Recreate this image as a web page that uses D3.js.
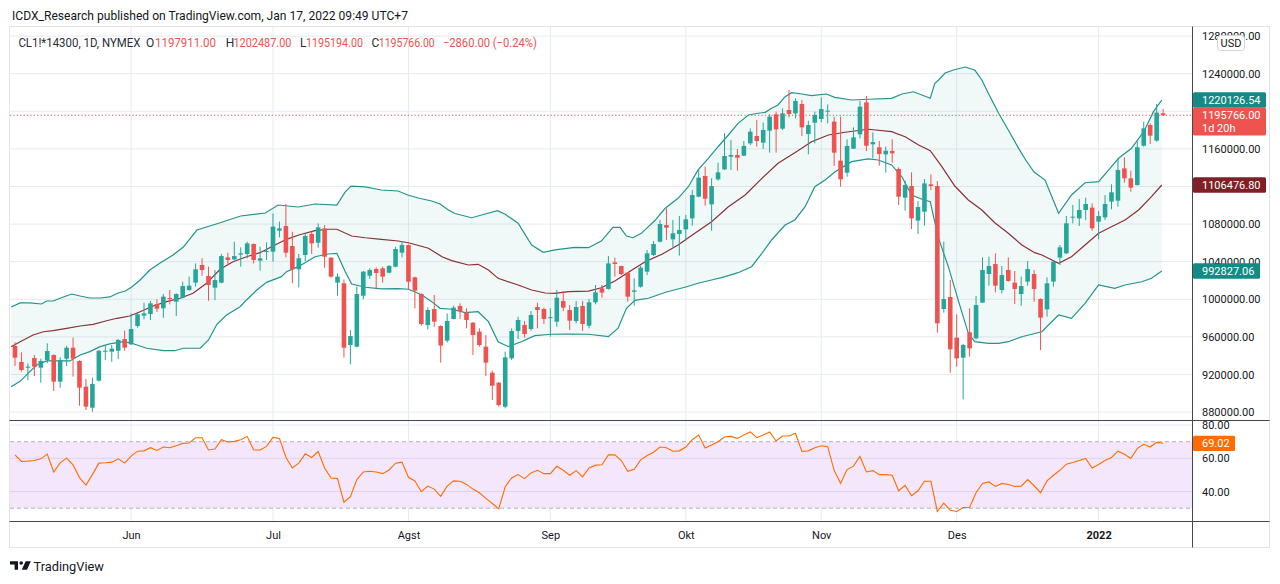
<!DOCTYPE html>
<html>
<head>
<meta charset="utf-8">
<script src="https://cdn.jsdelivr.net/npm/d3@7"></script>
<style>
	body { margin: 0; background: #ffffff; }
	svg { display: block; font-family: Roboto, "Noto Sans", sans-serif; }
</style>
</head>
<body>
<svg id="chart" width="1280" height="584"></svg>
<script>
// daily bars, index 0 = first visible bar (early May 2021), 178 = Jan 17 2022
const openPrices = [
	950300, 933300, 927300, 937500, 927300, 935400, 940700, 912400, 936800, 948500,
	934300, 907100, 884700, 913400, 944300, 944300, 945300, 957700, 952100, 971600,
	982600, 984300, 995000, 990400, 1001400, 997500, 1001700, 1009900, 1017700, 1036500,
	1024800, 1012400, 1017700, 1044600, 1042500, 1047500, 1048200, 1058800, 1041100, 1051000,
	1050700, 1073000, 1078000, 1056700, 1031900, 1047100, 1069500, 1060200, 1075500, 1044300,
	1017700, 1017000, 951400, 949600, 1003800, 1025100, 1032200, 1032900, 1028300, 1034700,
	1049600, 1057700, 1023400, 1005600, 972600, 989600, 971600, 956000, 979000, 992900,
	986100, 975100, 965600, 949600, 921900, 911300, 885800, 937200, 966300, 972700,
	968400, 991800, 989700, 980700, 976200, 998200, 988600, 976900, 992900, 971900,
	996800, 1011700, 1011000, 1039300, 1035400, 1028300, 1008000, 1013400, 1029400, 1047100,
	1061300, 1079000, 1063800, 1069500, 1074400, 1086100, 1109200, 1131200, 1101000, 1127600,
	1138200, 1151700, 1153500, 1152800, 1165900, 1173700, 1166600, 1179400, 1196800, 1181500,
	1201400, 1197800, 1207800, 1175800, 1187900, 1191800, 1200300, 1189000, 1147500, 1134700,
	1160200, 1175500, 1209500, 1164900, 1161700, 1154200, 1157800, 1138600, 1108100, 1120500,
	1083700, 1093200, 1122300, 1120500, 989700, 1002400, 959200, 937900, 964900, 958500,
	996400, 1026900, 1037500, 1009900, 1031200, 1017700, 1005600, 1018800, 1026900, 1000300,
	989300, 1018800, 1044300, 1048900, 1087600, 1086100, 1095000, 1097500, 1082600, 1087200,
	1103900, 1104900, 1139300, 1128700, 1121600, 1163400, 1185400, 1168800, 1197911
];
const highPrices = [
	954200, 943600, 931900, 940700, 936800, 953100, 941500, 938200, 950700, 959200,
	935000, 915200, 916600, 946000, 951400, 951400, 957700, 966600, 985000, 985800,
	996400, 998200, 999900, 1005600, 1009900, 1006300, 1018700, 1024100, 1038200, 1043600,
	1034700, 1031100, 1048200, 1049600, 1061300, 1055300, 1061300, 1059500, 1056000, 1060600,
	1091400, 1082600, 1101400, 1071900, 1048200, 1069500, 1071900, 1080800, 1079000, 1045000,
	1027600, 1021200, 967300, 1013400, 1030100, 1032900, 1034000, 1034700, 1036500, 1056000,
	1062000, 1058500, 1024100, 1006300, 991400, 1004600, 972300, 985000, 993200, 995700,
	990400, 975800, 969100, 962000, 924100, 912000, 944300, 969100, 981500, 976900,
	987500, 996400, 991100, 990400, 1009900, 1008800, 993900, 998200, 998200, 1000300,
	1015200, 1015200, 1046100, 1044300, 1035800, 1029000, 1022300, 1035800, 1052400, 1062000,
	1084300, 1096800, 1084300, 1088600, 1089700, 1116300, 1137600, 1141100, 1128700, 1145300,
	1176600, 1169500, 1159900, 1168400, 1181900, 1190700, 1187900, 1196800, 1199600, 1203100,
	1222700, 1213800, 1212000, 1190000, 1199600, 1214800, 1207400, 1194300, 1194300, 1170200,
	1182900, 1210900, 1216300, 1177600, 1168400, 1162400, 1170200, 1140400, 1126200, 1135100,
	1104600, 1128000, 1132900, 1125800, 1061300, 1020500, 984000, 952600, 990400, 1003500,
	1044600, 1045300, 1048900, 1035400, 1044600, 1030100, 1024100, 1040700, 1031200, 1001000,
	1023400, 1041100, 1057700, 1088600, 1100300, 1106700, 1108100, 1102100, 1093900, 1110900,
	1122300, 1149200, 1151000, 1136800, 1167700, 1189000, 1187200, 1207800, 1202487
];
const lowPrices = [
	929000, 923000, 914100, 918400, 911300, 931900, 902400, 906000, 929000, 917700,
	886800, 882200, 880500, 912400, 935400, 933600, 936500, 945300, 951400, 969800,
	978700, 978000, 986500, 980400, 994600, 982200, 1001000, 1009000, 1013400, 1025100,
	998500, 999200, 1017000, 1036500, 1041800, 1034700, 1043600, 1038200, 1030400, 1041800,
	1040000, 1065900, 1044600, 1017000, 1012700, 1040700, 1048200, 1054900, 1033700, 1023000,
	1003800, 937900, 930800, 948800, 1000000, 1021600, 1010600, 1017700, 1027600, 1034000,
	1044600, 1010600, 990400, 972000, 968000, 970900, 932600, 953900, 978700, 979000,
	969100, 940700, 949600, 918400, 892900, 885800, 884000, 935400, 957700, 959200,
	966600, 969100, 973700, 960200, 970900, 987500, 967300, 974400, 966300, 969100,
	994600, 1001700, 1010300, 1024100, 1025800, 997500, 993200, 1012400, 1025800, 1046100,
	1060600, 1063100, 1055300, 1046400, 1062400, 1078300, 1108500, 1099600, 1073000, 1126200,
	1137600, 1137600, 1136800, 1152400, 1164100, 1162400, 1159900, 1156000, 1156000, 1180100,
	1193600, 1192500, 1173700, 1154200, 1165900, 1188300, 1187200, 1141800, 1119800, 1130400,
	1160200, 1171200, 1157800, 1150000, 1142200, 1134700, 1145300, 1100300, 1094300, 1074800,
	1069500, 1078300, 1116200, 964500, 985800, 921900, 928300, 893600, 939000, 957400,
	996400, 1014500, 1007400, 1006300, 1018800, 995000, 993200, 1014500, 997500, 946000,
	981500, 1013400, 1036500, 1048200, 1080800, 1078000, 1084300, 1073000, 1063800, 1084300,
	1095700, 1098600, 1124100, 1114500, 1120900, 1162400, 1165200, 1167700, 1195194
];
const closePrices = [
	937900, 924800, 928300, 928300, 934400, 945000, 912400, 935400, 948500, 936800,
	906000, 885800, 909900, 945300, 945300, 947500, 956700, 948500, 968400, 984000,
	985000, 995700, 990000, 1002800, 1000300, 1005600, 1014100, 1014500, 1031900, 1031100,
	1015200, 1020500, 1046000, 1041800, 1046000, 1048900, 1059500, 1041800, 1043600, 1051400,
	1077300, 1075500, 1049600, 1031900, 1043600, 1067300, 1059500, 1076500, 1045300, 1024100,
	1024100, 948500, 960900, 1005600, 1029400, 1031200, 1028000, 1024100, 1035400, 1053500,
	1057700, 1018700, 1009200, 973700, 988600, 976200, 950700, 976900, 991100, 987500,
	978000, 962000, 951400, 932600, 908100, 887500, 938200, 966300, 978000, 963100,
	983300, 988600, 979100, 981000, 1001700, 991100, 977300, 991800, 973700, 996800,
	1007400, 1007100, 1038200, 1037500, 1026900, 1002800, 1009500, 1033700, 1048900, 1058800,
	1080100, 1076200, 1070200, 1073700, 1085100, 1110900, 1129400, 1107000, 1120500, 1135000,
	1152400, 1153500, 1150600, 1163100, 1178300, 1168400, 1180100, 1194300, 1180800, 1197800,
	1197100, 1211000, 1182900, 1185400, 1196100, 1202400, 1200700, 1156000, 1127600, 1163100,
	1172300, 1204900, 1163400, 1167300, 1154600, 1158100, 1155300, 1109200, 1121600, 1086100,
	1098200, 1123300, 1120500, 974400, 1000300, 946800, 937200, 951400, 947800, 993900,
	1031200, 1035400, 1014500, 1025800, 1019500, 1011000, 1014100, 1032200, 1011000, 980500,
	1017000, 1040000, 1055300, 1080800, 1087900, 1095000, 1101400, 1075500, 1088600, 1101400,
	1113800, 1137600, 1128700, 1118800, 1161700, 1181900, 1174100, 1198626, 1195766
];

// RSI(14), one value per bar
const rsiValues = [
	62.1, 58.1, 58.3, 58.7, 59.7, 62.5, 51.8, 57.3, 60.1, 56.1,
	48.4, 43.9, 50.2, 57.1, 57.3, 57.7, 59.7, 57.1, 61.3, 64.3,
	64.5, 66.4, 64.7, 66.8, 66.4, 67.6, 69.0, 69.2, 72.4, 72.4,
	65.0, 65.6, 71.2, 69.8, 70.2, 71.2, 73.2, 65.0, 65.0, 67.2,
	72.6, 72.0, 60.7, 54.2, 57.1, 62.7, 60.5, 64.1, 54.2, 48.2,
	47.8, 33.6, 36.9, 47.2, 51.8, 52.2, 51.8, 50.8, 53.0, 57.1,
	57.7, 48.6, 46.4, 39.9, 43.3, 41.5, 37.1, 43.3, 46.4, 46.2,
	44.3, 41.5, 39.3, 35.9, 32.8, 29.6, 42.9, 48.2, 50.2, 47.8,
	51.2, 52.8, 50.8, 50.8, 55.2, 52.8, 49.8, 52.6, 48.8, 54.2,
	55.9, 56.1, 62.1, 62.1, 58.7, 52.2, 53.4, 59.1, 61.7, 63.7,
	66.8, 66.4, 64.3, 64.5, 66.8, 71.2, 74.0, 66.2, 68.0, 70.0,
	72.8, 73.2, 72.0, 74.0, 75.9, 72.4, 74.0, 75.9, 70.4, 73.4,
	73.4, 75.1, 64.1, 64.5, 66.4, 67.6, 67.0, 52.8, 44.9, 53.2,
	55.3, 61.1, 51.8, 52.6, 50.2, 50.2, 49.8, 40.5, 43.7, 37.5,
	40.5, 46.2, 46.2, 28.0, 33.0, 28.8, 28.0, 30.4, 30.4, 39.3,
	44.9, 45.8, 43.1, 44.9, 44.3, 43.1, 43.3, 47.2, 43.5, 39.3,
	46.4, 49.8, 52.8, 56.5, 57.5, 58.7, 59.9, 54.2, 56.3, 58.7,
	60.5, 64.3, 62.5, 59.9, 66.0, 68.4, 66.8, 69.6, 69.02
];

// Bollinger bands: [bar position, price]
const bbUpper = [
	[-0.6, 991800], [0.8, 996100], [2.3, 996100], [4.1, 995000], [4.9, 998200], [5.9, 998200],
	[7.5, 1002500], [8.8, 1005600], [10.1, 1003500], [11.6, 1001400], [13.2, 1001400], [14.7, 1002500],
	[16, 1006700], [17.1, 1008800], [18.1, 1013100], [19.4, 1020500], [20.9, 1031200], [22.5, 1038600],
	[24.5, 1047100], [26.1, 1055600], [28.2, 1073700], [31.2, 1080100], [35, 1088600], [38.8, 1091800],
	[40.8, 1100300], [43.9, 1098200], [46.5, 1101400], [49.9, 1100300], [51.2, 1114200], [52.1, 1120500],
	[54.3, 1119500], [56.8, 1116300], [59.4, 1115200], [60.9, 1110900], [62.5, 1107800], [64.6, 1104600],
	[65.9, 1101400], [67.2, 1095000], [68.2, 1091300], [70.8, 1086800], [72.9, 1090700], [74.8, 1094300],
	[76, 1090400], [78, 1080900], [80.1, 1057800], [81.9, 1050000], [83.7, 1052500], [86.8, 1055300],
	[88.9, 1054900], [90.9, 1062000], [92.7, 1076600], [93.8, 1076600], [94.8, 1067300], [95.8, 1065500],
	[97.1, 1070200], [99.2, 1083800], [100.8, 1096800], [102.8, 1107400], [104.4, 1119800], [105.9, 1137600],
	[107.5, 1150000], [109, 1162300], [110.6, 1174800], [112.1, 1187200], [113.7, 1196100], [115.2, 1197900],
	[116.3, 1198900], [117.3, 1203200], [118.3, 1206700], [119.4, 1215500], [120.4, 1219800], [122, 1218400],
	[123.5, 1216600], [125.8, 1218400], [127.1, 1214900], [129.7, 1212000], [132.3, 1212800], [135.9, 1213800],
	[137.5, 1218400], [139.3, 1220800], [140.6, 1217300], [141.9, 1213800], [142.6, 1229800], [143.2, 1233300],
	[144.2, 1240700], [145.5, 1243900], [147.3, 1247100], [148.8, 1243900], [149.9, 1233300], [150.9, 1219100],
	[152.5, 1197900], [154, 1180100], [155.6, 1160600], [156.7, 1148200], [158, 1135400], [159.7, 1126900],
	[161.8, 1091500], [163.8, 1111000], [165.9, 1124000], [168, 1125100], [170, 1141100], [171.1, 1150000],
	[173.1, 1160600], [175, 1178300], [176.5, 1199600], [177.8, 1212000]
];
const bbBasis = [
	[-0.6, 949600], [0.8, 954900], [2.8, 962000], [4.4, 965500], [5.9, 966600], [8, 969100],
	[10.1, 971600], [12.1, 973400], [14.2, 977200], [15.8, 979800], [17.8, 982200], [19.4, 986800],
	[21.4, 992900], [23.5, 997500], [25.6, 1001100], [27.6, 1006400], [29.7, 1017000], [31.8, 1031900],
	[33.8, 1040000], [35.9, 1045300], [38, 1049600], [40, 1056700], [42.1, 1063800], [44, 1068400],
	[46.5, 1073000], [48.6, 1074500], [49.9, 1074500], [52.2, 1067300], [54.3, 1065500], [56.8, 1063800],
	[59.4, 1062000], [61, 1060200], [64.1, 1054300], [66.2, 1045300], [67.7, 1041100], [70.3, 1036500],
	[71.8, 1037200], [73.4, 1031200], [74.9, 1022300], [78, 1015200], [80.1, 1009900], [82.2, 1006700],
	[83.7, 1006400], [85.8, 1008100], [88.9, 1008800], [90.9, 1012300], [93, 1019500], [95.1, 1028700],
	[97.7, 1040000], [100.3, 1048000], [102.8, 1057800], [105.4, 1070200], [108, 1082600], [110.6, 1098500],
	[113.2, 1111000], [115.8, 1128700], [118.3, 1144700], [120.9, 1156000], [123.5, 1167700], [126.1, 1174800],
	[128.7, 1177700], [132.3, 1180900], [135.9, 1178300], [138, 1173000], [140.1, 1164100], [141.9, 1158100],
	[143.7, 1141100], [145.7, 1120500], [147.8, 1105600], [149.9, 1095000], [151.9, 1081500], [154, 1070200],
	[156.1, 1057800], [158.1, 1049600], [159.2, 1047100], [161.8, 1038300], [163.8, 1045300], [165.9, 1057800],
	[168, 1070200], [170, 1077200], [172.1, 1084400], [174.2, 1095000], [176.2, 1109200], [177.8, 1121600]
];
const bbLower = [
	[-0.6, 907000], [0.8, 912700], [2.3, 923000], [3.4, 930100], [4.9, 934400], [7, 934400],
	[8.5, 934400], [10.1, 940700], [11.6, 944300], [13.2, 949600], [14.7, 952500], [16.8, 954900],
	[18.1, 953200], [20.4, 947900], [23, 945300], [24.8, 945300], [26.1, 947900], [28.7, 947900],
	[30, 956700], [31.3, 973400], [32.8, 983300], [34.9, 992100], [35.9, 999300], [37.5, 1009900],
	[39, 1018000], [41.3, 1024100], [42.1, 1029400], [44, 1035000], [46.5, 1045300], [48.6, 1048200],
	[49.9, 1048900], [51.2, 1029400], [52.2, 1016300], [54.3, 1012800], [56.8, 1011000], [59.4, 1011300],
	[61, 1010700], [63.1, 1004600], [64.6, 997500], [65.9, 990400], [67.7, 989400], [69.8, 985800],
	[71.8, 986800], [73.4, 976200], [74.9, 954900], [76.5, 949600], [78.5, 954900], [80.6, 961300],
	[83.2, 962800], [85.8, 963100], [88.9, 962800], [92, 960200], [93.5, 969200], [94.8, 990400],
	[96.1, 998900], [98.2, 1001100], [101, 1007800], [104, 1013100], [106, 1017300], [108, 1020500],
	[110.1, 1024100], [112.1, 1028300], [114.2, 1034700], [115.8, 1048900], [117.3, 1063100], [119.4, 1079000],
	[120.9, 1084400], [122.5, 1098500], [124, 1119800], [125.6, 1126900], [127.1, 1135400], [129.7, 1146400],
	[132.3, 1149300], [133.8, 1148200], [135.9, 1142900], [137.5, 1130400], [139, 1110900], [140.6, 1106400],
	[141.9, 1103800], [143.1, 1066600], [144.7, 1034700], [146.3, 997500], [147.8, 963800], [148.8, 954900],
	[150.9, 953200], [152.5, 953200], [154, 954900], [156.1, 960200], [159.2, 965500], [161.8, 983300],
	[163.8, 979800], [165.9, 995700], [168, 1015200], [170.5, 1011700], [172.1, 1015200], [174.7, 1018700],
	[176.2, 1022400], [177.8, 1030100]
];
// values printed on the price scale for the bands (upper, basis, lower)
const bbLastText = ["1220126.54", "1106476.80", "992827.06"];

const monthTicks = [18, 40, 61, 83, 104, 125, 146, 168];
const monthLabels = ["Jun", "Jul", "Agst", "Sep", "Okt", "Nov", "Des", "2022"];
const priceTicks = [880000, 920000, 960000, 1000000, 1040000, 1080000, 1120000, 1160000, 1200000, 1240000, 1280000];
const rsiTicks = [40, 60, 80];
const rsiBands = [30, 70];

const symbolText = "CL1!*14300, 1D, NYMEX";
const publishedText = "ICDX_Research published on TradingView.com, Jan 17, 2022 09:49 UTC+7";
const countdownText = "1d 20h";

// layout
const plotL = 10, plotR = 1192, plotT = 27, priceB = 420.5, rsiB = 521, axisB = 548, frameR = 1270;
const upColor = "#26a69a", downColor = "#ef5350";
const gridColor = "#e6ebf0", darkLine = "#434651", textColor = "#131722";

const svg = d3.select("#chart");

const x = d3.scaleLinear().domain([0, 178]).range([15, 1163.1]);
const y = d3.scaleLinear().domain([880000, 1280000]).range([412.1, 36.1]);
const yR = d3.scaleLinear().domain([30, 70]).range([508.2, 441.7]);

const defs = svg.append("defs");
defs.append("clipPath").attr("id", "clipPrice")
	.append("rect").attr("x", plotL).attr("y", plotT).attr("width", plotR - plotL).attr("height", priceB - plotT);
defs.append("clipPath").attr("id", "clipRsi")
	.append("rect").attr("x", plotL).attr("y", priceB).attr("width", plotR - plotL).attr("height", rsiB - priceB);

svg.append("rect").attr("width", 1280).attr("height", 584).attr("fill", "#ffffff");

// grid
const grid = svg.append("g");
grid.selectAll(".vgrid")
	.data(monthTicks)
	.enter()
	.append("line")
	.attr("x1", (d) => x(d)).attr("x2", (d) => x(d))
	.attr("y1", plotT).attr("y2", rsiB)
	.attr("stroke", gridColor);
grid.selectAll(".hgrid")
	.data(priceTicks)
	.enter()
	.append("line")
	.attr("x1", plotL).attr("x2", plotR)
	.attr("y1", (d) => y(d)).attr("y2", (d) => y(d))
	.attr("stroke", gridColor);

// price pane
const pricePane = svg.append("g").attr("clip-path", "url(#clipPrice)");

const toPoint = (d) => [x(d[0]), y(d[1])];
const bandPoints = bbUpper.map(toPoint).concat(bbLower.slice().reverse().map(toPoint));
pricePane.append("path")
	.attr("d", d3.line()(bandPoints) + "Z")
	.attr("fill", "rgba(38,150,143,0.065)");

const bandLine = d3.line().x((d) => x(d[0])).y((d) => y(d[1]));
[[bbUpper, "#22948d"], [bbLower, "#22948d"], [bbBasis, "#8c2f36"]].forEach(([data, color]) => {
	pricePane.append("path")
		.attr("d", bandLine(data))
		.attr("fill", "none")
		.attr("stroke", color)
		.attr("stroke-width", 1.2);
});

const candles = pricePane.selectAll(".candle")
	.data(closePrices.map((c, i) => ({ i, o: openPrices[i], h: highPrices[i], l: lowPrices[i], c })))
	.enter()
	.append("g");
candles.append("line")
	.attr("x1", (d) => x(d.i)).attr("x2", (d) => x(d.i))
	.attr("y1", (d) => y(d.h)).attr("y2", (d) => y(d.l))
	.attr("stroke", (d) => (d.c >= d.o ? upColor : downColor))
	.attr("stroke-width", 1);
candles.append("rect")
	.attr("x", (d) => x(d.i) - 2.3)
	.attr("width", 4.6)
	.attr("y", (d) => y(Math.max(d.o, d.c)))
	.attr("height", (d) => Math.max(1, Math.abs(y(d.o) - y(d.c))))
	.attr("fill", (d) => (d.c >= d.o ? upColor : downColor));

const lastIdx = closePrices.length - 1;
const lastClose = closePrices[lastIdx];
pricePane.append("line")
	.attr("x1", plotL).attr("x2", plotR)
	.attr("y1", y(lastClose)).attr("y2", y(lastClose))
	.attr("stroke", downColor)
	.attr("stroke-dasharray", "1.2,2.2");

// rsi pane
const rsiPane = svg.append("g").attr("clip-path", "url(#clipRsi)");
rsiPane.append("rect")
	.attr("x", plotL).attr("width", plotR - plotL)
	.attr("y", yR(rsiBands[1])).attr("height", yR(rsiBands[0]) - yR(rsiBands[1]))
	.attr("fill", "#f4e7fb");
rsiPane.selectAll(".rgrid")
	.data(rsiTicks)
	.enter()
	.append("line")
	.attr("x1", plotL).attr("x2", plotR)
	.attr("y1", (d) => yR(d)).attr("y2", (d) => yR(d))
	.attr("stroke", (d) => (d < rsiBands[1] ? "#ddd3ef" : gridColor));
rsiPane.selectAll(".rband")
	.data(rsiBands)
	.enter()
	.append("line")
	.attr("x1", plotL).attr("x2", plotR)
	.attr("y1", (d) => yR(d)).attr("y2", (d) => yR(d))
	.attr("stroke", "#b2b0bc")
	.attr("stroke-dasharray", "4,3");
rsiPane.append("path")
	.attr("d", d3.line().x((d, i) => x(i)).y((d) => yR(d))(rsiValues))
	.attr("fill", "none")
	.attr("stroke", "#ff6d00")
	.attr("stroke-width", 1.1);

// frame and separators
svg.append("rect")
	.attr("x", plotL - 0.5).attr("y", plotT - 0.5)
	.attr("width", frameR - plotL).attr("height", axisB - plotT)
	.attr("fill", "none").attr("stroke", "#e0e3eb");
[priceB, rsiB + 0.5].forEach((yy) => {
	svg.append("line").attr("x1", plotL - 0.5).attr("x2", frameR - 0.5)
		.attr("y1", yy).attr("y2", yy).attr("stroke", darkLine);
});
svg.append("line").attr("x1", plotR + 0.5).attr("x2", plotR + 0.5)
	.attr("y1", plotT - 0.5).attr("y2", axisB - 0.5).attr("stroke", darkLine);

// axes
const lastOf = (arr) => arr[arr.length - 1][1];
const seriesLabelY = [y(lastOf(bbUpper)), y(lastOf(bbBasis)), y(lastOf(bbLower)), y(lastClose)];
// tick labels that sit right under a series label are not shown on the scale
const shownTicks = priceTicks.filter((t) => seriesLabelY.every((ly) => Math.abs(ly - y(t)) > 6));

const styleAxis = (g) => {
	g.select(".domain").remove();
	g.selectAll("text").attr("fill", textColor).style("font-size", "11px").style("font-family", "Roboto, sans-serif");
};
svg.append("g")
	.attr("transform", `translate(${plotR},0)`)
	.call(d3.axisRight(y).tickValues(shownTicks).tickSize(0).tickPadding(10).tickFormat((d) => d.toFixed(2)))
	.call(styleAxis);
svg.append("g")
	.attr("transform", `translate(${plotR},0)`)
	.call(d3.axisRight(yR).tickValues(rsiTicks).tickSize(0).tickPadding(10).tickFormat((d) => d.toFixed(2)))
	.call(styleAxis);
svg.append("g")
	.attr("transform", `translate(0,${rsiB})`)
	.call(d3.axisBottom(x).tickValues(monthTicks).tickSize(0).tickPadding(10).tickFormat((d, i) => monthLabels[i]))
	.call(styleAxis)
	.selectAll("text")
	.style("font-weight", (d, i) => (monthLabels[i] === "2022" ? "bold" : "normal"));

// USD badge
svg.append("rect").attr("x", 1217.5).attr("y", 35.5).attr("width", 27).attr("height", 15).attr("rx", 3)
	.attr("fill", "#ffffff").attr("stroke", "#d1d4dc");
svg.append("text").attr("x", 1231).attr("y", 43).attr("text-anchor", "middle").attr("dy", "0.35em")
	.attr("fill", textColor).style("font-size", "11px").text("USD");

// series labels on the price scale
const scaleLabel = (yy, text, bg, w) => {
	svg.append("rect").attr("x", plotR + 1).attr("y", yy - 7.7).attr("width", w).attr("height", 15.4)
		.attr("rx", 1.5).attr("fill", bg);
	svg.append("text").attr("x", 1202).attr("y", yy).attr("dy", "0.35em")
		.attr("fill", "#ffffff").style("font-size", "11px").text(text);
};
scaleLabel(seriesLabelY[0], bbLastText[0], "#138a84", 73);
scaleLabel(seriesLabelY[1], bbLastText[1], "#801f25", 73);
scaleLabel(seriesLabelY[2], bbLastText[2], "#138a84", 67);

const yc = y(lastClose);
svg.append("rect").attr("x", plotR + 1).attr("y", yc - 7.7).attr("width", 73).attr("height", 28)
	.attr("rx", 1.5).attr("fill", downColor);
svg.append("text").attr("x", 1202).attr("y", yc).attr("dy", "0.35em")
	.attr("fill", "#ffffff").style("font-size", "11px").text(lastClose.toFixed(2));
svg.append("text").attr("x", 1202).attr("y", yc + 12.6).attr("dy", "0.35em")
	.attr("fill", "#ffffff").style("font-size", "11px").text(countdownText);

const lastRsi = rsiValues[lastIdx];
svg.append("rect").attr("x", plotR + 1).attr("y", yR(lastRsi) - 7.7).attr("width", 42).attr("height", 15.4)
	.attr("rx", 1.5).attr("fill", "#ff6d00");
svg.append("text").attr("x", 1202).attr("y", yR(lastRsi)).attr("dy", "0.35em")
	.attr("fill", "#ffffff").style("font-size", "11px").text(lastRsi.toFixed(2));

// header
svg.append("text").attr("x", 12).attr("y", 15).attr("dy", "0.35em")
	.attr("fill", textColor).style("font-size", "13px")
	.attr("textLength", 396).attr("lengthAdjust", "spacingAndGlyphs")
	.text(publishedText);

const change = lastClose - closePrices[lastIdx - 1];
const minus = (v) => (v < 0 ? "\u2212" : "") + Math.abs(v).toFixed(2);
const legend = [
	[18.4, symbolText, "#2a2e39", 122],
	[146, "O", "#2a2e39", 0], [155, openPrices[lastIdx].toFixed(2), downColor, 61],
	[225.7, "H", "#2a2e39", 0], [233.5, highPrices[lastIdx].toFixed(2), downColor, 58],
	[300, "L", "#2a2e39", 0], [306, lowPrices[lastIdx].toFixed(2), downColor, 57],
	[371.4, "C", "#2a2e39", 0], [378.8, lastClose.toFixed(2), downColor, 56],
	[442.9, `${minus(change)} (${minus((change / closePrices[lastIdx - 1]) * 100)}%)`, downColor, 94],
];
legend.forEach(([lx, text, color, len]) => {
	const t = svg.append("text").attr("x", lx).attr("y", 42.7).attr("dy", "0.35em")
		.attr("fill", color).style("font-size", "12px").text(text);
	if (len) t.attr("textLength", len).attr("lengthAdjust", "spacingAndGlyphs");
});

// footer logo
const logo = svg.append("g").attr("fill", textColor);
logo.append("path").attr("d", "M10,561.3 H18 V569.7 H14.6 V564.6 H10 Z");
logo.append("circle").attr("cx", 21.2).attr("cy", 563).attr("r", 1.8);
logo.append("path").attr("d", "M25.6,561.3 H30.8 L27,569.7 H21.8 Z");
svg.append("text").attr("x", 33.5).attr("y", 566).attr("dy", "0.35em")
	.attr("fill", textColor).style("font-size", "13.5px")
	.attr("textLength", 70.5).attr("lengthAdjust", "spacingAndGlyphs")
	.text("TradingView");
</script>
</body>
</html>
